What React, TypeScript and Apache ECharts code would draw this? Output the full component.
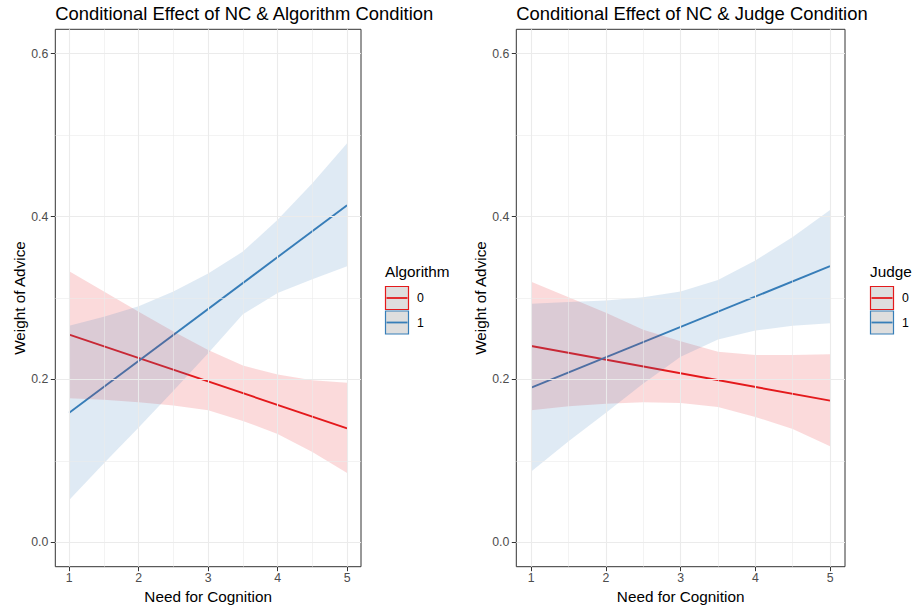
import React, { useEffect, useRef } from "react";
import * as echarts from "echarts";

// ---------- data ----------
const bandX = [1, 1.5, 2, 2.5, 3, 3.5, 4, 4.5, 5];
const lineX = [1, 5];

// Panel A: Algorithm condition
const algTitle = "Conditional Effect of NC & Algorithm Condition";
const algLegendTitle = "Algorithm";
const alg0Fit = [0.255, 0.14];
const alg1Fit = [0.159, 0.414];
const alg0Lower = [0.177, 0.175, 0.172, 0.168, 0.162, 0.149, 0.133, 0.111, 0.085];
const alg0Upper = [0.333, 0.308, 0.283, 0.259, 0.236, 0.217, 0.206, 0.199, 0.196];
const alg1Lower = [0.052, 0.097, 0.141, 0.186, 0.232, 0.28, 0.306, 0.323, 0.339];
const alg1Upper = [0.266, 0.277, 0.29, 0.308, 0.33, 0.357, 0.396, 0.441, 0.49];

// Panel B: Judge condition
const judTitle = "Conditional Effect of NC & Judge Condition";
const judLegendTitle = "Judge";
const jud0Fit = [0.241, 0.174];
const jud1Fit = [0.19, 0.339];
const jud0Lower = [0.162, 0.167, 0.17, 0.172, 0.171, 0.166, 0.154, 0.139, 0.118];
const jud0Upper = [0.32, 0.301, 0.282, 0.261, 0.247, 0.234, 0.23, 0.23, 0.231];
const jud1Lower = [0.087, 0.124, 0.159, 0.195, 0.228, 0.249, 0.26, 0.266, 0.269];
const jud1Upper = [0.293, 0.295, 0.297, 0.301, 0.308, 0.322, 0.346, 0.375, 0.408];

const groupLabels = ["0", "1"];
const xTicks = [1, 2, 3, 4, 5];
const xMinor = [1.5, 2.5, 3.5, 4.5];
const yTicks = [0, 0.2, 0.4, 0.6];
const yMinor = [0.1, 0.3, 0.5];
const xName = "Need for Cognition";
const yName = "Weight of Advice";

// ---------- styles ----------
const FONT = "'Liberation Sans', Arial, Helvetica, sans-serif";
const RED = "#E41A1C";
const BLUE = "#377EB8";
const RED_FILL = "rgba(228,26,28,0.16)";
const BLUE_FILL = "rgba(55,126,184,0.16)";
const GRID = "#EBEBEB";

const panels = [
  {
    title: algTitle, legendTitle: algLegendTitle,
    fit: [alg0Fit, alg1Fit], lower: [alg0Lower, alg1Lower], upper: [alg0Upper, alg1Upper],
    left: 55.3, width: 305.7, yNameGap: 27, legendX: 385,
  },
  {
    title: judTitle, legendTitle: judLegendTitle,
    fit: [jud0Fit, jud1Fit], lower: [jud0Lower, jud1Lower], upper: [jud0Upper, jud1Upper],
    left: 516.3, width: 328.7, yNameGap: 28, legendX: 870,
  },
];

const TOP = 29.3;
const HEIGHT = 537.4;
const colors = [RED, BLUE];
const fills = [RED_FILL, BLUE_FILL];

function ribbonRenderer(xs: number[], lo: number[], hi: number[], fill: string) {
  return (params: any, api: any) => {
    if (params.dataIndex !== 0) return null;
    const pts: number[][] = [];
    for (let k = 0; k < xs.length; k++) pts.push(api.coord([xs[k], hi[k]]));
    for (let k = xs.length - 1; k >= 0; k--) pts.push(api.coord([xs[k], lo[k]]));
    return {
      type: "polygon",
      shape: { points: pts },
      style: { fill, stroke: "none" },
      silent: true,
    };
  };
}

function buildOption() {
  const grids: any[] = [];
  const xAxes: any[] = [];
  const yAxes: any[] = [];
  const series: any[] = [];
  const titles: any[] = [];
  const graphics: any[] = [];

  panels.forEach((p, i) => {
    grids.push({
      left: p.left, top: TOP, width: p.width, height: HEIGHT,
      show: true, borderColor: "#333333", borderWidth: 1, backgroundColor: "#FFFFFF",
      containLabel: false, outerBoundsMode: "none",
    });
    xAxes.push({
      type: "value", gridIndex: i, min: 0.8, max: 5.2,
      name: xName, nameLocation: "middle", nameGap: 22,
      nameTextStyle: { color: "#000000", fontSize: 15.3, fontFamily: FONT },
      axisLine: { show: false, onZero: false },
      axisTick: { show: true, customValues: xTicks, length: 4.5, lineStyle: { color: "#333333", width: 1 } },
      axisLabel: { customValues: xTicks, color: "#4D4D4D", fontSize: 12.3, fontFamily: FONT, margin: 5 },
      splitLine: { show: false },
      minorSplitLine: { show: false },
    });
    yAxes.push({
      type: "value", gridIndex: i, min: -0.03, max: 0.63,
      name: yName, nameLocation: "middle", nameGap: p.yNameGap,
      nameTextStyle: { color: "#000000", fontSize: 15.3, fontFamily: FONT },
      axisLine: { show: false, onZero: false },
      axisTick: { show: true, customValues: yTicks, length: 4.5, lineStyle: { color: "#333333", width: 1 } },
      axisLabel: {
        customValues: yTicks, color: "#4D4D4D", fontSize: 12.3, fontFamily: FONT, margin: 7,
        formatter: (v: number) => v.toFixed(1),
      },
      splitLine: { show: false },
    });

    // gridlines through the library scales
    const gl: any[] = [];
    xTicks.forEach((v) => gl.push({ xAxis: v, lineStyle: { color: GRID, width: 1.1, type: "solid" } }));
    xMinor.forEach((v) => gl.push({ xAxis: v, lineStyle: { color: GRID, width: 0.6, type: "solid" } }));
    yTicks.forEach((v) => gl.push({ yAxis: v, lineStyle: { color: GRID, width: 1.1, type: "solid" } }));
    yMinor.forEach((v) => gl.push({ yAxis: v, lineStyle: { color: GRID, width: 0.6, type: "solid" } }));
    series.push({
      type: "line", xAxisIndex: i, yAxisIndex: i, z: 1, silent: true,
      data: [[xTicks[0], yTicks[1]]], symbol: "none", showSymbol: false,
      lineStyle: { opacity: 0 },
      markLine: { silent: true, symbol: ["none", "none"], label: { show: false }, animation: false, data: gl },
    });

    // fitted lines
    [0, 1].forEach((g) => {
      series.push({
        type: "line", xAxisIndex: i, yAxisIndex: i, z: 2, silent: true,
        data: lineX.map((x, k) => [x, p.fit[g][k]]),
        symbol: "none", showSymbol: false,
        lineStyle: { color: colors[g], width: 1.9 },
      });
    });

    // ribbons (polygons placed through api.coord)
    [0, 1].forEach((g) => {
      series.push({
        type: "custom", xAxisIndex: i, yAxisIndex: i, z: 3 + g, silent: true,
        data: bandX.map((x, k) => [x, p.lower[g][k], p.upper[g][k]]),
        encode: { x: 0, y: [1, 2] },
        renderItem: ribbonRenderer(bandX, p.lower[g], p.upper[g], fills[g]),
      });
    });

    titles.push({
      text: p.title, left: p.left, top: 4, padding: 0,
      textStyle: { color: "#000000", fontSize: 18.4, fontWeight: "normal", fontFamily: FONT },
    });

    // legend
    const lx = p.legendX;
    graphics.push({
      type: "text", x: lx, y: 271,
      style: { text: p.legendTitle, fill: "#000000", fontSize: 15.3, fontFamily: FONT, verticalAlign: "middle", align: "left" },
    });
    [0, 1].forEach((g) => {
      const ky = 286.5 + g * 24.5;
      graphics.push({
        type: "rect", shape: { x: lx + 0.5, y: ky, width: 23, height: 23 },
        style: { fill: "#DEDEDE", stroke: colors[g], lineWidth: 1.2 },
      });
      graphics.push({
        type: "line", shape: { x1: lx + 1.5, y1: ky + 11.5, x2: lx + 22.5, y2: ky + 11.5 },
        style: { stroke: colors[g], lineWidth: 1.8 },
      });
      graphics.push({
        type: "text", x: lx + 32, y: ky + 11.8,
        style: { text: groupLabels[g], fill: "#000000", fontSize: 12.3, fontFamily: FONT, verticalAlign: "middle", align: "left" },
      });
    });
  });

  return {
    animation: false,
    backgroundColor: "#FFFFFF",
    textStyle: { fontFamily: FONT },
    title: titles,
    grid: grids,
    xAxis: xAxes,
    yAxis: yAxes,
    series,
    graphic: graphics,
  };
}

export default function App() {
  const ref = useRef<HTMLDivElement>(null);
  useEffect(() => {
    if (!ref.current) return;
    const chart = echarts.init(ref.current, undefined, { renderer: "svg" });
    chart.setOption(buildOption() as any);
    return () => chart.dispose();
  }, []);
  return (
    <div
      ref={ref}
      style={{ position: "fixed", left: 0, top: 0, width: 913, height: 609, background: "#fff" }}
    />
  );
}
